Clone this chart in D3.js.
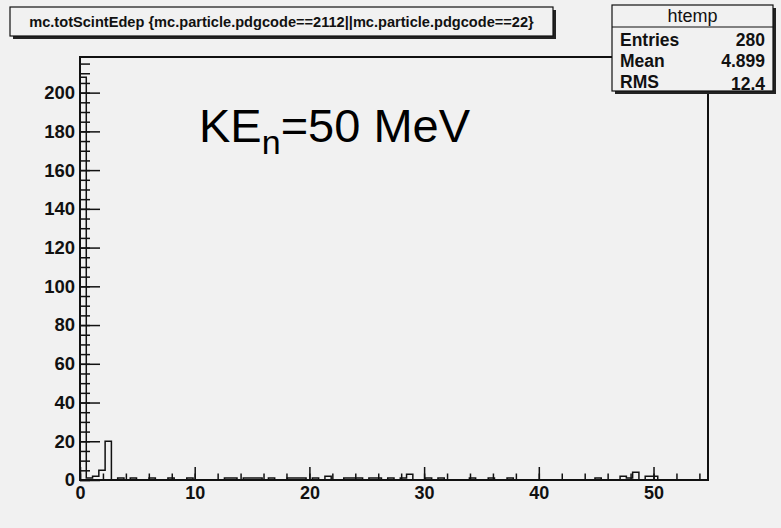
<!DOCTYPE html>
<html>
<head>
<meta charset="utf-8">
<script src="https://cdn.jsdelivr.net/npm/d3@7"></script>
<style>
  body { margin: 0; background: #f1f1f1; }
  svg { display: block; font-family: "Liberation Sans", Arial, sans-serif; }
  .tick text { font-weight: bold; fill: #111; }
  .xaxis .tick text { font-size: 18px; }
  .yaxis .tick text { font-size: 18.5px; }
</style>
</head>
<body>
<div id="chart"></div>
<script>
// histogram: 100 bins between 0 and xMax
var xMax = 54.75,
    nBins = 100;
var binCounts = [
  208, 1, 2, 5, 20, 0, 1, 0, 1, 0,
  0, 1, 0, 0, 1, 0, 0, 1, 0, 0,
  0, 0, 0, 1, 1, 0, 1, 1, 1, 0,
  1, 0, 0, 1, 1, 1, 0, 1, 0, 2,
  0, 0, 1, 1, 1, 0, 1, 1, 0, 1,
  0, 1, 3, 0, 0, 1, 0, 1, 0, 0,
  0, 0, 1, 0, 0, 1, 0, 0, 1, 0,
  0, 0, 0, 0, 0, 0, 0, 0, 0, 0,
  0, 0, 1, 0, 0, 0, 2, 1, 4, 0,
  2, 2, 0, 0, 0, 0, 0, 0, 0, 0
];
var xMajorTicks = [0, 10, 20, 30, 40, 50],
    yMajorTicks = [0, 20, 40, 60, 80, 100, 120, 140, 160, 180, 200];
var titleText = "mc.totScintEdep {mc.particle.pdgcode==2112||mc.particle.pdgcode==22}";
var statsName = "htemp",
    statsLabels = ["Entries", "Mean", "RMS"],
    statsValues = ["280", "4.899", "12.4"];

var width = 781, height = 528;
var frame = { left: 80, right: 708, top: 57, bottom: 480 };

var svg = d3.select("#chart").append("svg")
    .attr("width", width)
    .attr("height", height);

svg.append("rect").attr("width", width).attr("height", height).attr("fill", "#f1f1f1");

var yMax = d3.max(binCounts) * 1.05;

var x = d3.scaleLinear().domain([0, xMax]).range([frame.left, frame.right]);
var y = d3.scaleLinear().domain([0, yMax]).range([frame.bottom, frame.top]);

// minor ticks
var xMinor = d3.range(0, xMax, 2);
var yMinor = d3.range(0, yMax, 5);

function styleAxis(g) {
    g.select(".domain").remove();
    g.selectAll("line").attr("stroke", "#111").attr("stroke-width", 1.5);
}

svg.append("g")
    .attr("transform", "translate(0," + frame.bottom + ")")
    .call(d3.axisBottom(x).tickValues(xMinor).tickFormat("").tickSizeInner(-6.5).tickSizeOuter(0))
    .call(styleAxis);

svg.append("g")
    .attr("class", "xaxis")
    .attr("transform", "translate(0," + frame.bottom + ")")
    .call(d3.axisBottom(x).tickValues(xMajorTicks).tickSizeInner(-13).tickSizeOuter(0).tickPadding(6))
    .call(styleAxis);

svg.append("g")
    .attr("transform", "translate(" + frame.left + ",0)")
    .call(d3.axisLeft(y).tickValues(yMinor).tickFormat("").tickSizeInner(-10).tickSizeOuter(0))
    .call(styleAxis);

svg.append("g")
    .attr("class", "yaxis")
    .attr("transform", "translate(" + frame.left + ",0)")
    .call(d3.axisLeft(y).tickValues(yMajorTicks).tickSizeInner(-20).tickSizeOuter(0).tickPadding(5))
    .call(styleAxis);

// histogram outline
var bw = xMax / nBins;
var pts = [[x(0), y(0)]];
binCounts.forEach(function(c, i) {
    pts.push([x(i * bw), y(c)]);
    pts.push([x((i + 1) * bw), y(c)]);
});
pts.push([x(xMax), y(0)]);

svg.append("path")
    .attr("d", d3.line()(pts))
    .attr("fill", "none")
    .attr("stroke", "#111")
    .attr("stroke-width", 1.5);

// frame
svg.append("rect")
    .attr("x", frame.left).attr("y", frame.top)
    .attr("width", frame.right - frame.left)
    .attr("height", frame.bottom - frame.top)
    .attr("fill", "none")
    .attr("stroke", "#111")
    .attr("stroke-width", 2);

// title pave
var tb = { x: 10, y: 7, w: 543, h: 29 };
svg.append("rect").attr("x", tb.x + 3).attr("y", tb.y + 3).attr("width", tb.w).attr("height", tb.h).attr("fill", "#222");
svg.append("rect").attr("x", tb.x).attr("y", tb.y).attr("width", tb.w).attr("height", tb.h)
    .attr("fill", "#f1f1f1").attr("stroke", "#111").attr("stroke-width", 1.2);
svg.append("text")
    .attr("x", tb.x + tb.w / 2).attr("y", tb.y + tb.h / 2 + 5)
    .attr("text-anchor", "middle")
    .style("font-size", "14.6px").style("font-weight", "bold").attr("fill", "#111")
    .text(titleText);

// stats pave
var sb = { x: 612, y: 5, w: 161, h: 86 };
svg.append("rect").attr("x", sb.x + 3).attr("y", sb.y + 3).attr("width", sb.w).attr("height", sb.h).attr("fill", "#222");
svg.append("rect").attr("x", sb.x).attr("y", sb.y).attr("width", sb.w).attr("height", sb.h)
    .attr("fill", "#f1f1f1").attr("stroke", "#111").attr("stroke-width", 1.2);
svg.append("line").attr("x1", sb.x).attr("x2", sb.x + sb.w).attr("y1", 27).attr("y2", 27)
    .attr("stroke", "#111").attr("stroke-width", 1.2);
svg.append("text")
    .attr("x", sb.x + sb.w / 2).attr("y", 22)
    .attr("text-anchor", "middle")
    .style("font-size", "18px").attr("fill", "#111")
    .text(statsName);
statsLabels.forEach(function(lab, i) {
    var yy = 46 + i * 21;
    svg.append("text").attr("x", sb.x + 8).attr("y", yy)
        .style("font-size", "17.5px").style("font-weight", "bold").attr("fill", "#111")
        .text(lab);
    svg.append("text").attr("x", sb.x + sb.w - 8).attr("y", yy + (i === 2 ? 2 : 0))
        .attr("text-anchor", "end")
        .style("font-size", "17.5px").style("font-weight", "bold").attr("fill", "#111")
        .text(statsValues[i]);
});

// annotation
var ann = svg.append("text")
    .attr("x", 199).attr("y", 142)
    .style("font-size", "47px").attr("fill", "#000");
ann.append("tspan").text("KE");
ann.append("tspan").attr("dy", 12).style("font-size", "34px").text("n");
ann.append("tspan").attr("dy", -12).text("=50 MeV");
</script>
</body>
</html>
